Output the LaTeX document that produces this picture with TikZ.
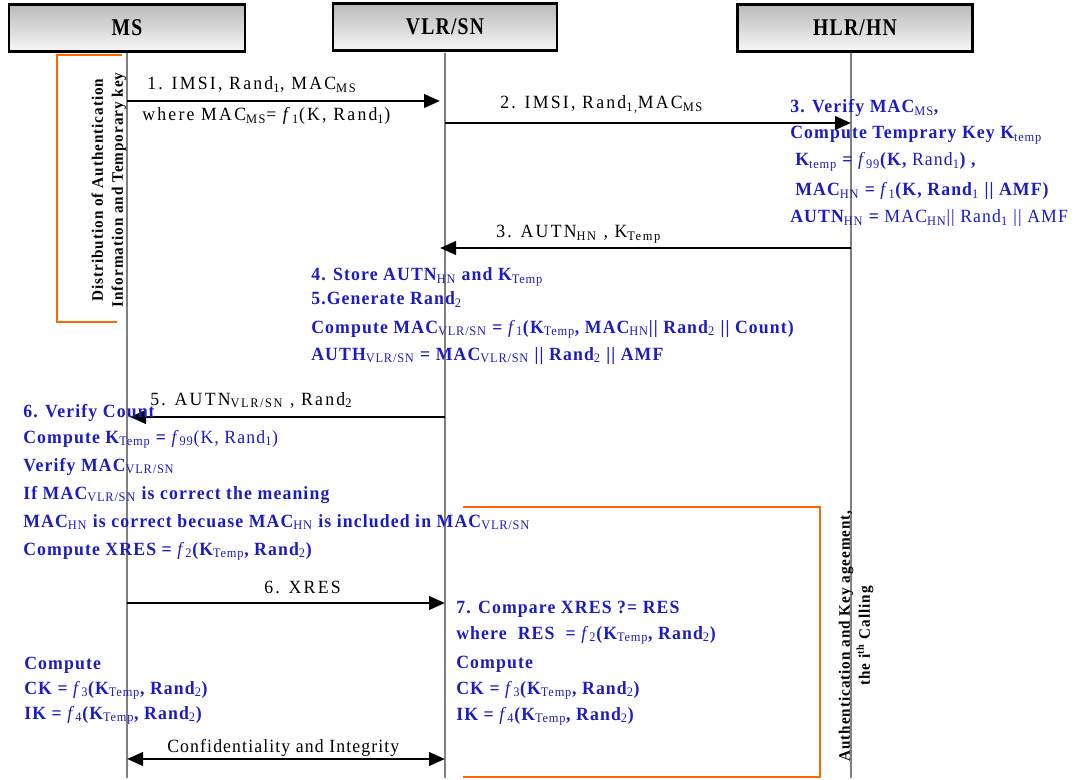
\documentclass[tikz,border=0pt]{standalone}
\usepackage{fontspec}
\setmainfont{Liberation Serif}[FakeStretch=0.95, LetterSpace=6]
\newfontfamily\msgfont{Liberation Serif}[FakeStretch=0.95, LetterSpace=12]
\newfontfamily\hdfont{Liberation Serif}[FakeStretch=0.82, LetterSpace=5]
\usepackage{xcolor}
\usetikzlibrary{arrows.meta}
\definecolor{stepblue}{RGB}{28,28,192}
\definecolor{brorange}{RGB}{255,102,0}
\newcommand{\sbs}[1]{\textsubscript{\mdseries #1}}
\newcommand{\fn}[1]{{\mdseries\textit{f}\textsubscript{#1}}}
\newcommand{\dbar}{\textbar\textbar}

\begin{document}
\begin{tikzpicture}[x=0.75pt, y=-0.75pt, font=\fontsize{14}{16}\selectfont,
  hd/.style={draw, line width=2.2pt, top color=gray!55, bottom color=gray!6, minimum height=35pt, font=\hdfont\bfseries\fontsize{18}{20}\selectfont},
  life/.style={draw=gray, line width=1.6pt},
  msg/.style={line width=2.2pt, -{Triangle[length=12pt, width=10pt]}},
  dmsg/.style={line width=2.2pt, {Triangle[length=12pt, width=10pt]}-{Triangle[length=12pt, width=10pt]}},
  lb/.style={anchor=base west, inner sep=0pt, font=\msgfont\fontsize{14}{16}\selectfont},
  bl/.style={anchor=base west, inner sep=0pt, text=stepblue, font=\bfseries\fontsize{14}{16}\selectfont},
  vt/.style={rotate=90, align=center, inner sep=0pt, font=\bfseries\fontsize{12}{15}\selectfont},
  brk/.style={draw=brorange, line width=2pt}]
 \useasboundingbox (0,0) rectangle (1087,780);
 % entities and lifelines
 \node[hd, minimum width=177pt] (ms) at (127,28) {MS};
 \node[hd, minimum width=168pt] (vlr) at (445,27) {VLR/SN};
 \node[hd, minimum width=176pt] (hlr) at (855,28) {HLR/HN};
 \coordinate (msT) at (127,53); \coordinate (msE) at (127,778);
 \coordinate (vlrT) at (445,53); \coordinate (vlrE) at (445,778);
 \coordinate (hlrT) at (851,53); \coordinate (hlrE) at (851,778);
 \draw[life] (msT) -- (msE);
 \draw[life] (vlrT) -- (vlrE);
 \draw[life] (hlrT) -- (hlrE);
 % distribution phase
 \draw[brk] (122,55) -| (57,322) -- (117,322);
 \node[vt] (dist) at (109,190) {Distribution of Authentication\\Information and Temporary key};
 \coordinate (m1s) at (127,101); \coordinate (m1e) at (440,101);
 \draw[msg] (m1s) -- (m1e);
 \node[lb] (l1) at (147,90) {1. IMSI, Rand\sbs{1}, MAC\sbs{MS}};
 \node[lb] (l1b) at (142,121) {where MAC\sbs{MS}= \fn{1}(K, Rand\sbs{1})};
 \coordinate (m2s) at (445,123); \coordinate (m2e) at (851,123);
 \draw[msg] (m2s) -- (m2e);
 \node[lb] (l2) at (500,109) {2. IMSI, Rand\sbs{1,}MAC\sbs{MS}};
 \node[bl] (h1) at (790,113) {3. Verify MAC\sbs{MS},};
 \node[bl] (h2) at (790,139) {Compute Temprary Key K\sbs{temp}};
 \node[bl] (h3) at (795,166) {K\sbs{temp} = \fn{99}(K, {\mdseries Rand\sbs{1}}) ,};
 \node[bl] (h4) at (795,196) {MAC\sbs{HN} = \fn{1}(K, Rand\sbs{1} \dbar{} AMF)};
 \node[bl] (h5) at (790,223) {AUTN\sbs{HN} = {\mdseries MAC\sbs{HN}\dbar{} Rand\sbs{1} \dbar{} AMF}};
 \coordinate (m3s) at (851,248); \coordinate (m3e) at (440,248);
 \draw[msg] (m3s) -- (m3e);
 \node[lb] (l3) at (496,238) {3. AUTN\sbs{HN} , K\sbs{Temp}};
 \node[bl] (v1) at (311,281) {4. Store AUTN\sbs{HN} and K\sbs{Temp}};
 \node[bl] (v2) at (311,305) {5.Generate Rand\sbs{2}};
 \node[bl] (v3) at (311,333) {Compute MAC\sbs{VLR/SN} = \fn{1}(K\sbs{Temp}, MAC\sbs{HN}\dbar{} Rand\sbs{2} \dbar{} Count)};
 \node[bl] (v4) at (311,360) {AUTH\sbs{VLR/SN} = MAC\sbs{VLR/SN} \dbar{} Rand\sbs{2} \dbar{} AMF};
 % authentication and key agreement
 \coordinate (m5s) at (445,417); \coordinate (m5e) at (130,417);
 \draw[msg] (m5s) -- (m5e);
 \node[lb] (l5) at (150,405) {5. AUTN\sbs{VLR/SN} , Rand\sbs{2}};
 \node[bl] (s1) at (23,417) {6. Verify Count};
 \node[bl] (s2) at (23,443) {Compute K\sbs{Temp} = {\mdseries\fn{99}(K, Rand\sbs{1})}};
 \node[bl] (s3) at (23,471) {Verify MAC\sbs{VLR/SN}};
 \node[bl] (s4) at (23,499) {If MAC\sbs{VLR/SN} is correct the meaning};
 \node[bl] (s5) at (23,527) {MAC\sbs{HN} is correct becuase MAC\sbs{HN} is included in MAC\sbs{VLR/SN}};
 \node[bl] (s6) at (23,555) {Compute XRES = \fn{2}(K\sbs{Temp}, Rand\sbs{2})};
 \draw[brk] (463,507) -| (820,777) -- (463,777);
 \node[vt] (aka) at (856,636) {Authentication and Key ageement,\\the i\textsuperscript{th} Calling};
 \coordinate (m6s) at (127,603); \coordinate (m6e) at (445,603);
 \draw[msg] (m6s) -- (m6e);
 \node[lb] (l6) at (264,593) {6. XRES};
 \node[bl] (w1) at (456,613) {7. Compare XRES ?= RES};
 \node[bl] (w2) at (456,639) {where\ \ RES\ \ = \fn{2}(K\sbs{Temp}, Rand\sbs{2})};
 \node[bl] (w3) at (456,668) {Compute};
 \node[bl] (w4) at (456,694) {CK = \fn{3}(K\sbs{Temp}, Rand\sbs{2})};
 \node[bl] (w5) at (456,720) {IK = \fn{4}(K\sbs{Temp}, Rand\sbs{2})};
 \node[bl] (c1) at (24,669) {Compute};
 \node[bl] (c2) at (24,694) {CK = \fn{3}(K\sbs{Temp}, Rand\sbs{2})};
 \node[bl] (c3) at (24,719) {IK = \fn{4}(K\sbs{Temp}, Rand\sbs{2})};
 \coordinate (m7s) at (127,759); \coordinate (m7e) at (445,759);
 \draw[dmsg] (m7s) -- (m7e);
 \node[lb, font=\fontsize{14}{16}\selectfont] (l7) at (167,752) {Confidentiality and Integrity};
\end{tikzpicture}
\end{document}
